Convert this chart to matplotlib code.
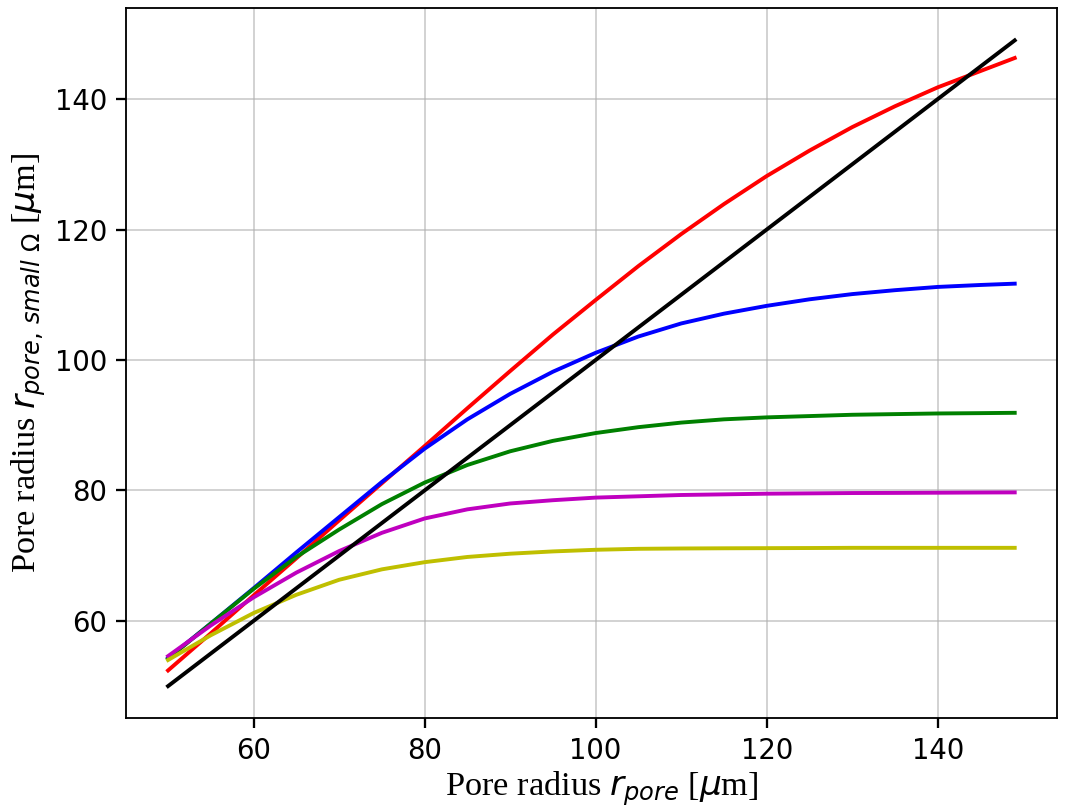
# Effective small-Omega pore radius vs. pore radius for several curves
import matplotlib.pyplot as plt

rpore = [50, 55, 60, 65, 70, 75, 80, 85, 90, 95, 100,
         105, 110, 115, 120, 125, 130, 135, 140, 145, 149]

red = [52.4, 58.1, 63.9, 69.6, 75.4, 81.1, 86.8, 92.6, 98.3, 103.9, 109.2,
       114.4, 119.3, 123.9, 128.2, 132.1, 135.7, 138.9, 141.8, 144.3, 146.3]
blue = [54.3, 59.6, 65.0, 70.5, 75.9, 81.3, 86.4, 90.9, 94.8, 98.2, 101.1,
        103.6, 105.6, 107.1, 108.3, 109.3, 110.1, 110.7, 111.2, 111.5, 111.7]
green = [54.2, 59.6, 64.9, 69.8, 74.0, 77.9, 81.2, 83.9, 86.0, 87.6, 88.8,
         89.7, 90.4, 90.9, 91.2, 91.4, 91.6, 91.7, 91.8, 91.85, 91.9]
magenta = [54.6, 59.3, 63.6, 67.4, 70.7, 73.5, 75.7, 77.1, 78.0, 78.5, 78.9,
           79.1, 79.3, 79.4, 79.5, 79.55, 79.6, 79.62, 79.65, 79.68, 79.7]
yellow = [54.0, 57.8, 61.2, 64.0, 66.3, 67.9, 69.0, 69.8, 70.3, 70.65, 70.9,
          71.05, 71.1, 71.13, 71.15, 71.17, 71.2, 71.2, 71.2, 71.2, 71.2]

fig = plt.figure(figsize=(1070/165, 809/165), dpi=165)
ax = fig.add_axes([0.1175, 0.112, 0.8704, 0.878])  # [left, bottom, width, height]

lw = 1.7
ax.plot(rpore, red, 'r', lw=lw)
ax.plot(rpore, blue, 'b', lw=lw)
ax.plot(rpore, green, 'g', lw=lw)
ax.plot(rpore, magenta, 'm', lw=lw)
ax.plot(rpore, yellow, 'y', lw=lw)
ax.plot(rpore, rpore, 'k', lw=lw)

ax.grid(True, alpha=0.6)
ax.set_xticks([60, 80, 100, 120, 140])
ax.set_yticks([60, 80, 100, 120, 140])
ax.tick_params(labelsize=12, length=4.5, width=1)

lab_font = {'family': 'Liberation Serif', 'size': 15}
ax.set_xlabel(r'Pore radius $r_{pore}$ [$\mu$m]', fontdict=lab_font)
ax.set_ylabel(r'Pore radius $r_{pore,\,small\ \Omega}$ [$\mu$m]', fontdict=lab_font, labelpad=3)
ax.xaxis.set_label_coords(0.511, -0.072)

fig.savefig('out.png', dpi=165)
